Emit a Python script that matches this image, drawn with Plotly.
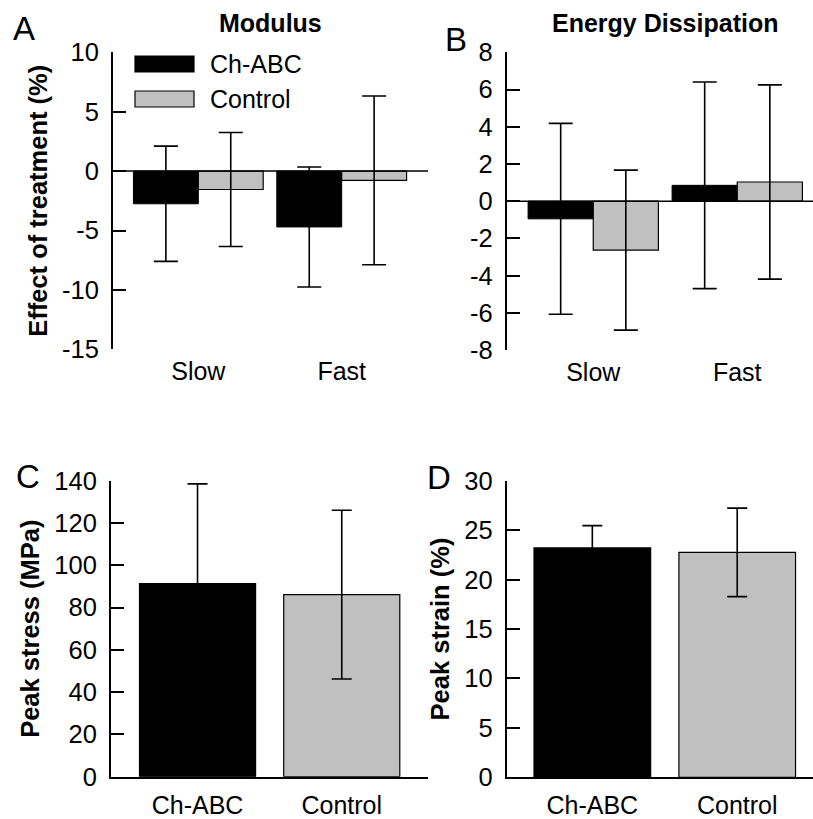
import plotly.graph_objects as go

# ---- data -------------------------------------------------------------
rates = ["Slow", "Fast"]
groups = ["Ch-ABC", "Control"]

modulus_chabc = [-2.75, -4.70]
modulus_chabc_sd = [4.85, 5.05]
modulus_control = [-1.55, -0.78]
modulus_control_sd = [4.80, 7.10]

energy_chabc = [-0.95, 0.85]
energy_chabc_sd = [5.13, 5.55]
energy_control = [-2.63, 1.03]
energy_control_sd = [4.30, 5.22]

peak_stress = [91.3, 86.1]
peak_stress_sd = [47.2, 39.9]
peak_strain = [23.2, 22.75]
peak_strain_sd = [2.26, 4.48]

modulus_ticks = [-15, -10, -5, 0, 5, 10]
energy_ticks = [-8, -6, -4, -2, 0, 2, 4, 6, 8]
stress_ticks = [0, 20, 40, 60, 80, 100, 120, 140]
strain_ticks = [0, 5, 10, 15, 20, 25, 30]

# ---- style ------------------------------------------------------------
W, H = 813, 819
BLACK = "#000000"
GREY = "#c0c0c0"
FONT = "Liberation Sans, Arial, sans-serif"
TICK_SIZE = 25.5
BOLD_SIZE = 25.5


def px_x(v):
    return v / W


def px_y(v):
    return 1 - v / H


def err(sd, cap):
    return dict(type="data", array=sd, visible=True, color=BLACK,
                thickness=1.6, width=cap)


fig = go.Figure()

# A: modulus
fig.add_trace(go.Bar(x=rates, y=modulus_chabc, name=groups[0],
                     marker=dict(color=BLACK, line=dict(color=BLACK, width=1)),
                     error_y=err(modulus_chabc_sd, 12), xaxis="x", yaxis="y"))
fig.add_trace(go.Bar(x=rates, y=modulus_control, name=groups[1],
                     marker=dict(color=GREY, line=dict(color=BLACK, width=1.2)),
                     error_y=err(modulus_control_sd, 12), xaxis="x", yaxis="y"))
# B: energy dissipation
fig.add_trace(go.Bar(x=rates, y=energy_chabc, name=groups[0],
                     marker=dict(color=BLACK, line=dict(color=BLACK, width=1)),
                     error_y=err(energy_chabc_sd, 12), xaxis="x2", yaxis="y2"))
fig.add_trace(go.Bar(x=rates, y=energy_control, name=groups[1],
                     marker=dict(color=GREY, line=dict(color=BLACK, width=1.2)),
                     error_y=err(energy_control_sd, 12), xaxis="x2", yaxis="y2"))
# C: peak stress
fig.add_trace(go.Bar(x=groups, y=peak_stress, width=0.805,
                     marker=dict(color=[BLACK, GREY], line=dict(color=BLACK, width=1.2)),
                     error_y=err(peak_stress_sd, 10), xaxis="x3", yaxis="y3"))
# D: peak strain
fig.add_trace(go.Bar(x=groups, y=peak_strain, width=0.805,
                     marker=dict(color=[BLACK, GREY], line=dict(color=BLACK, width=1.2)),
                     error_y=err(peak_strain_sd, 10), xaxis="x4", yaxis="y4"))

tickfont = dict(family=FONT, size=TICK_SIZE, color=BLACK)
catfont = dict(family=FONT, size=25, color=BLACK)


def yaxis(domain, rng, ticks, anchor, title=None):
    d = dict(domain=domain, range=rng, tickvals=ticks,
             ticktext=[str(t) for t in ticks], anchor=anchor, automargin=False,
             showgrid=False, showline=True, linecolor=BLACK, linewidth=2,
             ticks="inside", ticklen=13, tickwidth=1.5, tickcolor=BLACK,
             tickfont=tickfont, zeroline=False, ticklabelstandoff=7)
    if title:
        d["title"] = dict(text=f"<b>{title}</b>",
                          font=dict(family=FONT, size=BOLD_SIZE, color=BLACK),
                          standoff=7)
    return d


def xaxis(domain, rng, anchor, line):
    return dict(domain=domain, range=rng, anchor=anchor, type="category",
                automargin=False,
                showgrid=False, showline=line, linecolor=BLACK, linewidth=2,
                ticks="", tickfont=catfont, zeroline=False, ticklabelstandoff=5)


fig.update_layout(
    width=W, height=H, margin=dict(l=0, r=0, t=0, b=0),
    paper_bgcolor="white", plot_bgcolor="white",
    showlegend=False, barmode="group", bargap=0.095, bargroupgap=0,
    font=dict(family=FONT, color=BLACK),
    xaxis=xaxis([px_x(113), px_x(428)], [-0.595, 1.602], "y", False),
    yaxis=yaxis([px_y(349.3), px_y(52.3)], [-15, 10], modulus_ticks, "x",
                "Effect of treatment (%)"),
    xaxis2=xaxis([px_x(506.7), 1.0], [-0.601, 1.526], "y2", False),
    yaxis2=yaxis([px_y(350), px_y(52.3)], [-8, 8], energy_ticks, "x2"),
    xaxis3=xaxis([px_x(111), px_x(428)], [-0.6, 1.598], "y3", True),
    yaxis3=yaxis([px_y(776.7), px_y(480.7)], [0, 140], stress_ticks, "x3",
                 "Peak stress (MPa)"),
    xaxis4=xaxis([px_x(506.7), 1.0], [-0.591, 1.523], "y4", True),
    yaxis4=yaxis([px_y(777.3), px_y(480.7)], [0, 30], strain_ticks, "x4",
                 "Peak strain (%)"),
)

# zero reference lines for panels A and B
fig.add_shape(type="line", xref="x domain", yref="y", x0=0, x1=1, y0=0, y1=0,
              line=dict(color=BLACK, width=1.5))
fig.add_shape(type="line", xref="x2 domain", yref="y2", x0=0, x1=1, y0=0, y1=0,
              line=dict(color=BLACK, width=1.5))

# legend swatches for panel A
legend_rows = [(groups[0], BLACK, 56, 72), (groups[1], GREY, 91, 107)]
for name, color, top, bottom in legend_rows:
    fig.add_shape(type="rect", xref="paper", yref="paper",
                  x0=px_x(135), x1=px_x(194), y0=px_y(bottom), y1=px_y(top),
                  fillcolor=color, line=dict(color=BLACK, width=1.2))
    fig.add_annotation(text=name, xref="paper", yref="paper",
                       x=px_x(208), y=px_y((top + bottom) / 2),
                       xanchor="left", yanchor="middle", showarrow=False,
                       font=dict(family=FONT, size=25, color=BLACK))

# panel titles
for text, cx in [("Modulus", 270), ("Energy Dissipation", 665)]:
    fig.add_annotation(text=f"<b>{text}</b>", xref="paper", yref="paper",
                       x=px_x(cx), y=px_y(23), xanchor="center", yanchor="middle",
                       showarrow=False,
                       font=dict(family=FONT, size=25, color=BLACK))

# panel letters
for letter, cx, cy in [("A", 24, 29), ("B", 456, 39), ("C", 28, 476), ("D", 439, 477)]:
    fig.add_annotation(text=letter, xref="paper", yref="paper",
                       x=px_x(cx), y=px_y(cy), xanchor="center", yanchor="middle",
                       showarrow=False, font=dict(family=FONT, size=33, color=BLACK))

fig.write_html("out.html")
